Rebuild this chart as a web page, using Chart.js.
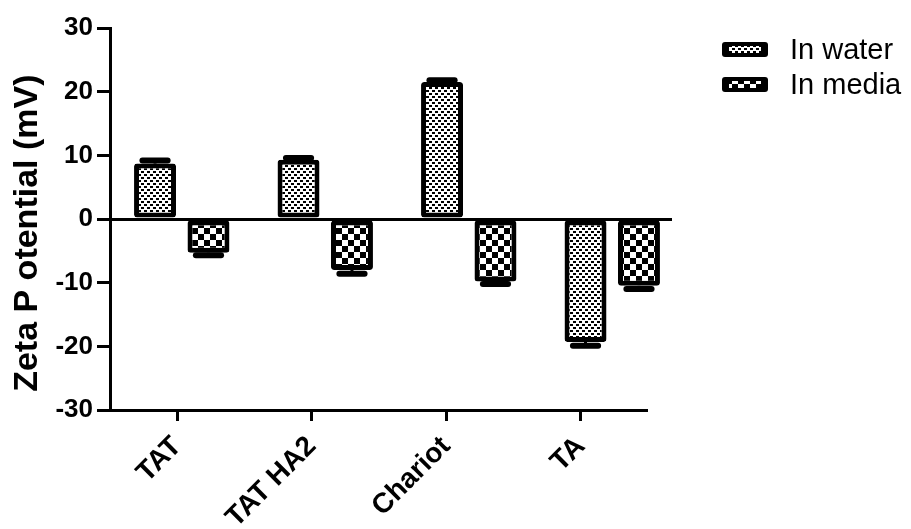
<!DOCTYPE html>
<html><head><meta charset="utf-8">
<script src="https://cdn.jsdelivr.net/npm/chart.js@4"></script>
<style>html,body{margin:0;padding:0;background:#fff}#wrap{width:911px;height:529px}</style>
</head><body><div id="wrap"><canvas id="c" width="911" height="529"></canvas></div>
<script>
const categories = ['TAT', 'TAT HA2', 'Chariot', 'TA'];
const seriesNames = ['In water', 'In media'];
const waterValues = [8.7, 9.3, 21.5, -19.3];
const waterErrors = [0.5, 0.3, 0.3, 0.6];
const mediaValues = [-5.3, -8.0, -9.8, -10.5];
const mediaErrors = [0.4, 0.6, 0.4, 0.5];
const yMin = -30, yMax = 30, yStep = 10;

const FONT = "'Liberation Sans', Arial, sans-serif";
const categoryIndex = categories.map((_, i) => i);

function makePattern(kind) {
  const c = document.createElement('canvas');
  const g = c.getContext('2d');
  if (kind === 'water') {
    c.width = 6; c.height = 6;
    g.fillStyle = '#fff'; g.fillRect(0, 0, 6, 6);
    g.fillStyle = '#000';
    g.fillRect(0, 0, 3, 2); g.fillRect(3, 3, 3, 2);
  } else {
    c.width = 12; c.height = 12;
    g.fillStyle = '#fff'; g.fillRect(0, 0, 12, 12);
    g.fillStyle = '#000';
    g.fillRect(0, 0, 6, 6); g.fillRect(6, 6, 6, 6);
  }
  return g.createPattern(c, 'repeat');
}
const waterPattern = makePattern('water');
const mediaPattern = makePattern('media');

const errorBars = {
  id: 'errorBars',
  afterDatasetsDraw(chart) {
    const ctx = chart.ctx, y = chart.scales.y;
    chart.data.datasets.forEach((ds, i) => {
      const meta = chart.getDatasetMeta(i);
      meta.data.forEach((bar, j) => {
        const v = ds.data[j].y, e = ds.errors[j];
        const end = v >= 0 ? v + e : v - e;
        const py = y.getPixelForValue(end), pv = y.getPixelForValue(v);
        const w = bar.width;
        ctx.save();
        ctx.strokeStyle = '#000';
        ctx.lineWidth = 3;
        ctx.beginPath(); ctx.moveTo(bar.x, pv); ctx.lineTo(bar.x, py); ctx.stroke();
        ctx.lineWidth = 6; ctx.lineCap = 'round';
        ctx.beginPath(); ctx.moveTo(bar.x - w * 0.3, py); ctx.lineTo(bar.x + w * 0.3, py); ctx.stroke();
        ctx.restore();
      });
    });
  }
};

const xAxisLine = {
  id: 'xAxisLine',
  afterDraw(chart) {
    const ctx = chart.ctx, a = chart.chartArea, t = chart.scales.xTicks;
    ctx.save();
    ctx.strokeStyle = '#000';
    ctx.lineWidth = 3;
    ctx.beginPath();
    ctx.moveTo(a.left - 1.5, a.bottom + 0.5);
    ctx.lineTo(t.getPixelForValue(categories.length - 0.5), a.bottom + 0.5);
    ctx.stroke();
    ctx.restore();
  }
};

const customLegend = {
  id: 'customLegend',
  afterDraw(chart) {
    const ctx = chart.ctx;
    chart.data.datasets.forEach((ds, i) => {
      const bx = 722, by = 42 + i * 35, bw = 46, bh = 15;
      ctx.save();
      ctx.fillStyle = '#000';
      ctx.beginPath(); ctx.roundRect(bx, by, bw, bh, 3); ctx.fill();
      ctx.fillStyle = ds.backgroundColor;
      ctx.fillRect(bx + 7, by + 4, bw - 14, bh - 8);
      ctx.fillStyle = '#000';
      ctx.font = "29px " + FONT;
      ctx.textBaseline = 'middle';
      ctx.fillText(ds.label, 790, by + bh / 2 + 1);
      ctx.restore();
    });
  }
};

new Chart(document.getElementById('c'), {
  type: 'bar',
  data: {
    datasets: [
      { label: seriesNames[0], data: waterValues.map((v, i) => ({ x: categoryIndex[i], y: v })), errors: waterErrors,
        backgroundColor: waterPattern, borderColor: '#000', borderWidth: 5, borderSkipped: false, borderRadius: 3,
        categoryPercentage: 0.745, barPercentage: 0.785 },
      { label: seriesNames[1], data: mediaValues.map((v, i) => ({ x: categoryIndex[i], y: v })), errors: mediaErrors,
        backgroundColor: mediaPattern, borderColor: '#000', borderWidth: 5, borderSkipped: false, borderRadius: 3,
        categoryPercentage: 0.745, barPercentage: 0.785 }
    ]
  },
  options: {
    responsive: false,
    animation: false,
    devicePixelRatio: 1,
    layout: { padding: { top: 28, right: 239, left: 0, bottom: 0 } },
    plugins: { legend: { display: false }, tooltip: { enabled: false } },
    scales: {
      x: {
        type: 'linear', display: false, offset: false, min: -0.5, max: -0.5 + 562 / 143.5,
        grid: { offset: false },
        afterBuildTicks(s) { s.ticks = categoryIndex.map(v => ({ value: v })); }
      },
      xTicks: {
        type: 'linear', position: 'bottom', offset: false, min: -0.5, max: -0.5 + 562 / 134.5,
        afterBuildTicks(s) { s.ticks = categoryIndex.map(v => ({ value: v })); },
        grid: { offset: false, drawOnChartArea: false, drawTicks: true, tickLength: 11, tickWidth: 3, tickColor: '#000', color: '#000', lineWidth: 3 },
        border: { display: false },
        ticks: { color: '#000', font: { family: FONT, size: 28, weight: 'bold' }, maxRotation: 45, minRotation: 45, padding: 9,
          autoSkip: false, callback: (v) => categories[v] },
        afterFit(s) { s.height = 119; }
      },
      y: {
        min: yMin, max: yMax,
        grid: {
          drawOnChartArea: true, drawTicks: true, tickLength: 13, tickWidth: 3, tickColor: '#000', lineWidth: 3,
          color: (c) => (c.tick && c.tick.value === 0) ? '#000' : 'rgba(0,0,0,0)'
        },
        border: { display: true, color: '#000', width: 3 },
        ticks: { stepSize: yStep, color: '#000', padding: 4, font: { family: FONT, size: 26, weight: 'bold' } },
        title: { display: true, text: 'Zeta P otential (mV)   ', color: '#000', padding: { top: 7, bottom: 0 },
          font: { family: FONT, size: 34, weight: 'bold' } },
        afterFit(s) { s.width = 110; }
      }
    }
  },
  plugins: [errorBars, xAxisLine, customLegend]
});
</script>
</body></html>
